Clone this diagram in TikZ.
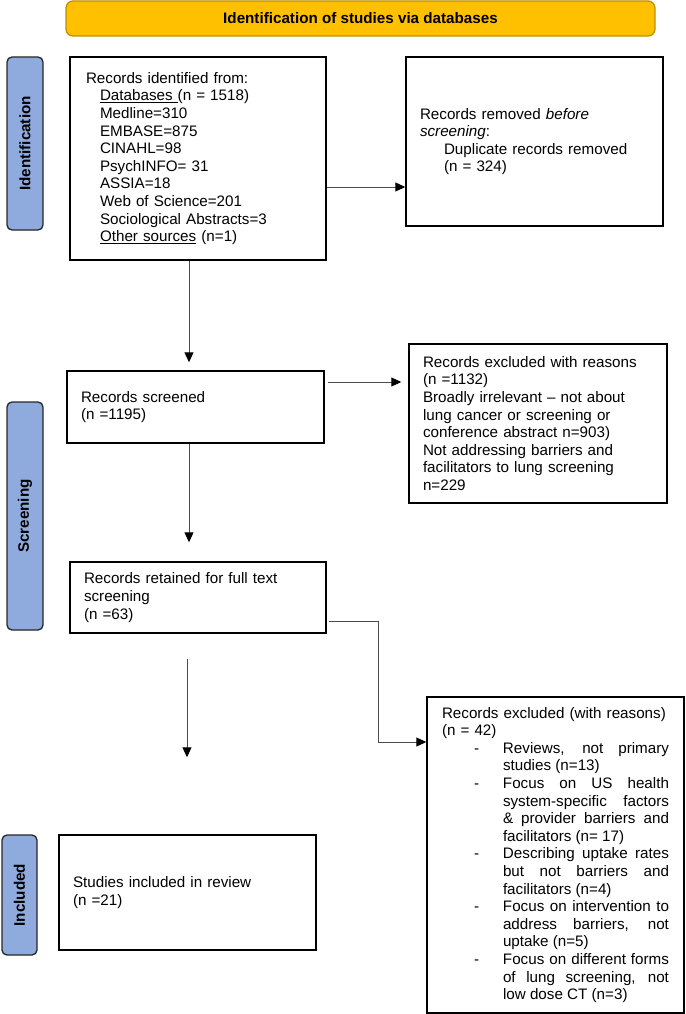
\documentclass[tikz,border=0pt]{standalone}
\usepackage{fontspec}
\setmainfont{Liberation Sans}
\usetikzlibrary{arrows.meta}

\definecolor{headfill}{HTML}{FFC000}
\definecolor{headline}{HTML}{BF9000}
\definecolor{stageblue}{HTML}{8FAADC}

\newcommand\ind{\hspace*{14pt}}
\newcommand\dashitem[1]{\par{\noindent\sloppy\hyphenpenalty=10000\relax
  \spaceskip=0pt\xspaceskip=0pt\leftskip=0pt\rightskip=0pt\relax
  \hangindent=61pt\hangafter=0
  \llap{\makebox[29pt][l]{-}}#1\par}}

\begin{document}
\begin{tikzpicture}[x=1pt,y=-1pt,
    box/.style={draw=black,line width=1.4pt,fill=white,inner xsep=14pt,inner ysep=0pt,
      align=left,font=\fontsize{15.2}{17.6}\selectfont},
    stage/.style={draw=black!85,line width=1.3pt,fill=stageblue,rounded corners=5pt,
      rotate=90,inner sep=0pt,font=\bfseries\fontsize{15.2}{17.6}\selectfont},
    arr/.style={draw=black!70,line width=0.9pt,-{Triangle[length=10pt,width=9pt,color=black]}}
  ]
    \useasboundingbox (0,0) rectangle (685,1014);

    \node[draw=headline,fill=headfill,line width=1.3pt,rounded corners=7pt,
          minimum width=589pt,minimum height=35pt,font=\bfseries\fontsize{15.2}{17.6}\selectfont]
          (head) at (360.5,18.5) {Identification of studies via databases};

    \node[stage,minimum width=173pt,minimum height=36pt] (idlab) at (25,143.5) {Identification};
    \node[stage,minimum width=228pt,minimum height=36pt] (sclab) at (25,516) {Screening};
    \node[stage,minimum width=120pt,minimum height=35pt] (inlab) at (19.5,895) {Included};

    \node[box,inner xsep=16pt,text width=224pt,minimum height=203pt] (ident) at (198,158.5)
      {Records identified from:\\
       \ind\underline{Databases\ }(n = 1518)\\
       \ind Medline=310\\
       \ind EMBASE=875\\
       \ind CINAHL=98\\
       \ind PsychINFO= 31\\
       \ind ASSIA=18\\
       \ind Web of Science=201\\
       \ind Sociological Abstracts=3\\
       \ind\underline{Other sources} (n=1)};

    \node[box,text width=229pt,minimum height=169pt] (removed) at (534.5,141.5)
      {Records removed \textit{before}\\
       \textit{screening}:\\
       \hspace*{24pt}Duplicate records removed\\
       \hspace*{24pt}(n = 324)};

    \node[box,text width=229pt,minimum height=72pt] (screened) at (195.5,407)
      {Records screened\\(n =1195)};

    \node[box,text width=230pt,minimum height=159pt] (excl1) at (538,423.5)
      {Records excluded with reasons\\
       (n =1132)\\
       Broadly irrelevant – not about\\
       lung cancer or screening or\\
       conference abstract n=903)\\
       Not addressing barriers and\\
       facilitators to lung screening\\
       n=229};

    \node[box,text width=228pt,minimum height=71pt] (retained) at (198,597.5)
      {Records retained for full text\\screening\\(n =63)};

    \node[box,text width=229pt,minimum height=115pt] (studies) at (187.5,892.5)
      {Studies included in review\\(n =21)};

    \node[box,inner xsep=15pt,text width=227pt,minimum height=316pt] (excl2) at (555.5,855)
      {Records excluded (with reasons)\\
       (n = 42)
       \dashitem{Reviews, not primary\linebreak studies (n=13)}
       \dashitem{Focus on US health\linebreak system-specific factors\linebreak \& provider barriers and\linebreak facilitators (n= 17)}
       \dashitem{Describing uptake rates\linebreak but not barriers and\linebreak facilitators (n=4)}
       \dashitem{Focus on intervention to\linebreak address barriers, not\linebreak uptake (n=5)}
       \dashitem{Focus on different forms\linebreak of lung screening, not\linebreak low dose CT (n=3)}};

    % connectors
    \coordinate (bend) at (378,742);
    \draw[arr] ([yshift=-28.5pt]ident.east) -- ([yshift=-28.5pt]ident.east -| removed.west);
    \draw[arr,shorten >=8pt] ([xshift=-9pt]ident.south) -- ([xshift=-9pt]ident.south |- screened.north);
    \draw[arr,shorten <=3pt,shorten >=7pt] ([yshift=25pt]screened.east) -- ([yshift=25pt]screened.east -| excl1.west);
    \draw[arr,shorten >=19pt] ([xshift=-6.5pt]screened.south) -- ([xshift=-6.5pt]screened.south |- retained.north);
    \draw[arr,shorten <=25pt,shorten >=77pt] ([xshift=-11pt]retained.south) -- ([xshift=-11pt]retained.south |- studies.north);
    \draw[arr,shorten <=2pt] ([yshift=-23.5pt]retained.east) -| (bend) -- (bend -| excl2.west);
\end{tikzpicture}
\end{document}
